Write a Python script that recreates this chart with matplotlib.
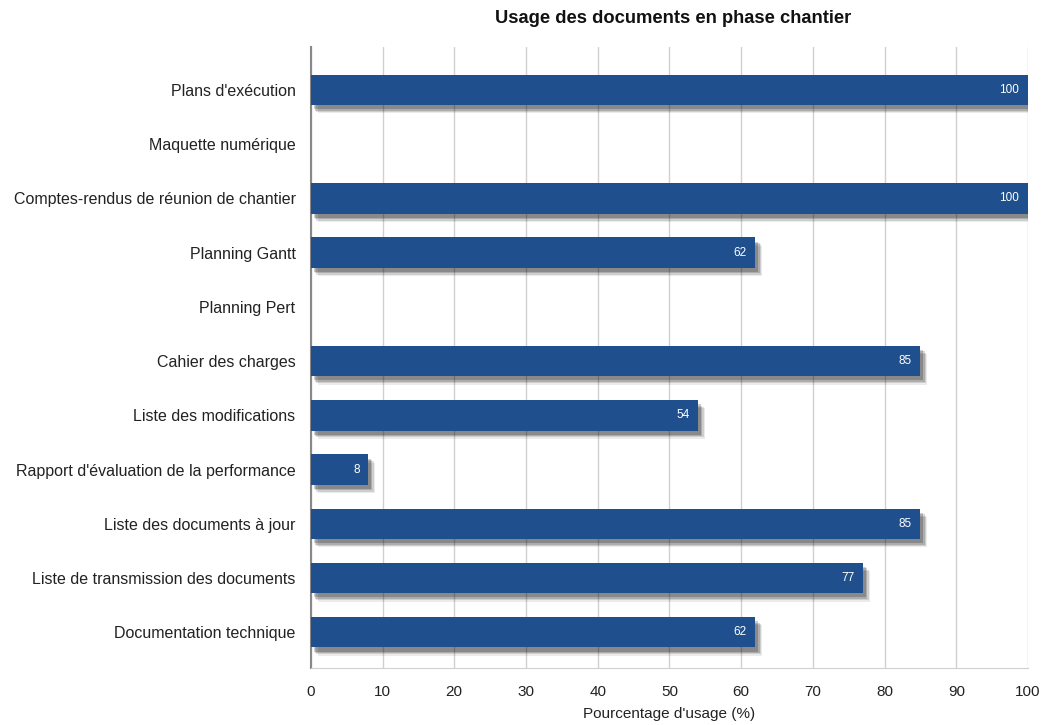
import matplotlib
matplotlib.use("Agg")
import matplotlib.pyplot as plt
import matplotlib.patheffects as pe

# data
categories = [
    "Plans d'exécution",
    "Maquette numérique",
    "Comptes-rendus de réunion de chantier",
    "Planning Gantt",
    "Planning Pert",
    "Cahier des charges",
    "Liste des modifications",
    "Rapport d'évaluation de la performance",
    "Liste des documents à jour",
    "Liste de transmission des documents",
    "Documentation technique",
]
values = [100, 0, 100, 62, 0, 85, 54, 8, 85, 77, 62]
xticks = [0, 10, 20, 30, 40, 50, 60, 70, 80, 90, 100]

plt.rcParams["font.family"] = ["Liberation Sans", "DejaVu Sans"]

fig = plt.figure(figsize=(10.43, 7.25), dpi=100)
ax = fig.add_axes([0.298, 0.0786, 0.6876, 0.8564])

ypos = list(range(len(categories)))
bars = ax.barh(ypos, values, height=0.56, color="#1f4f8d", zorder=3)
# soft drop shadow built from a few stacked offsets
shadow = [pe.SimplePatchShadow(offset=(o, -o - 1), shadow_rgbFace="#000000", alpha=a)
          for o, a in [(5, 0.08), (4, 0.12), (3, 0.16), (2, 0.2)]]
for b in bars:
    b.set_path_effects(shadow + [pe.Normal()])

for y, v in zip(ypos, values):
    if v > 0:
        ax.text(v - 1.2, y, str(v), ha="right", va="center", color="white", fontsize=8.5, zorder=4)

ax.set_xlim(0, 100)
ax.set_ylim(10.66, -0.79)
ax.set_yticks(ypos)
ax.set_yticklabels(categories, fontsize=11.5)
ax.set_xticks(xticks)
ax.set_xticklabels([str(t) for t in xticks], fontsize=11)
ax.tick_params(axis="both", length=0, colors="#222222")
ax.tick_params(axis="y", pad=11)
ax.tick_params(axis="x", pad=12)

ax.grid(axis="x", color="#d0d0d0", linewidth=1, zorder=0)
ax.grid(axis="y", visible=False)
for s in ["top", "right"]:
    ax.spines[s].set_visible(False)
ax.spines["bottom"].set_color("#d0d0d0")
ax.spines["left"].set_color("#888888")
ax.spines["left"].set_linewidth(1.5)

ax.set_xlabel("Pourcentage d'usage (%)", fontsize=11, labelpad=6, color="#222222")
fig.text(0.645, 0.975, "Usage des documents en phase chantier", ha="center", va="center",
         fontsize=13.2, fontweight="bold", color="#111111")

fig.savefig("out.png", dpi=100)
